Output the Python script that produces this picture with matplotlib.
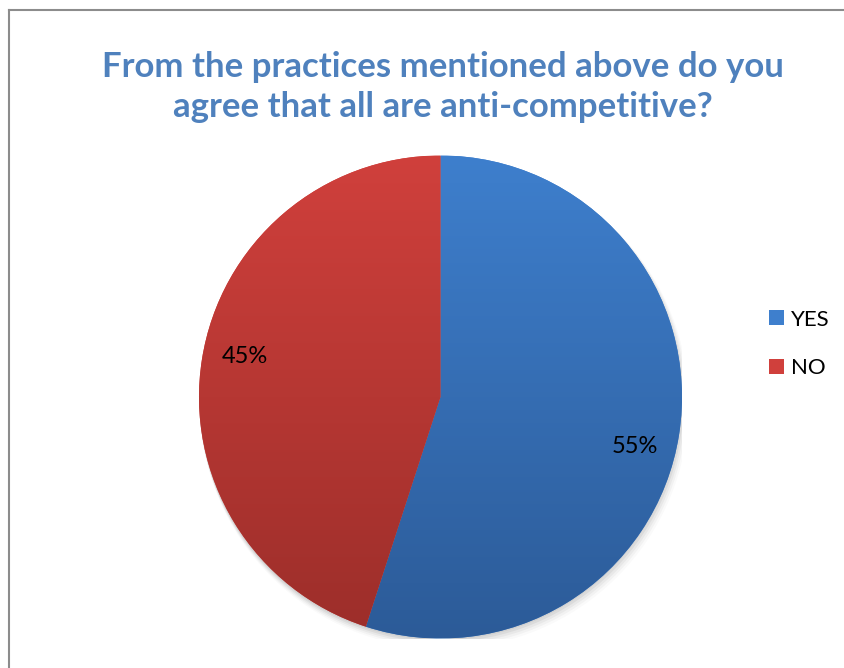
import numpy as np
import matplotlib
matplotlib.use("Agg")
import matplotlib.pyplot as plt
from matplotlib.colors import LinearSegmentedColormap
from matplotlib.lines import Line2D
from matplotlib.patches import Circle

# survey answers
labels = ["YES", "NO"]
shares = [55, 45]
top_colors = ["#3E7FCD", "#D0403C"]
bottom_colors = ["#2C5B98", "#9C2E2A"]
title = "From the practices mentioned above do you\nagree that all are anti-competitive?"

plt.rcParams["font.family"] = ["Lato", "DejaVu Sans"]

fig = plt.figure(figsize=(8.45, 6.68), dpi=100)
ax = fig.add_axes([199 / 845, 29.5 / 668, 483 / 845, 483 / 668])

wedges, texts, autotexts = ax.pie(
    shares, labels=None, startangle=90, counterclock=False,
    colors=top_colors, autopct="%d%%", pctdistance=0.83,
    wedgeprops=dict(linewidth=0), textprops=dict(fontsize=17, color="black"))
ax.set_xlim(-1, 1)
ax.set_ylim(-1, 1)
ax.set_aspect("equal")

# soft drop shadow under the pie
for k, a in enumerate([0.05, 0.05, 0.04, 0.03, 0.02]):
    ax.add_patch(Circle((0.004 * k, -0.006 * (k + 1)), 1.0 + 0.003 * k,
                        color="black", alpha=a, zorder=0.5, lw=0))

# vertical gradient inside each slice
grad = np.linspace(0, 1, 256).reshape(-1, 1)
for w, c0, c1 in zip(wedges, top_colors, bottom_colors):
    cmap = LinearSegmentedColormap.from_list("g", [c1, c0])
    im = ax.imshow(grad, cmap=cmap, extent=(-1, 1, -1, 1), origin="lower",
                   aspect="auto", zorder=1.5)
    im.set_clip_path(w)
    w.set_zorder(1.4)

autotexts[0].set_position((0.805, -0.207))
autotexts[1].set_position((-0.809, 0.166))
for t in autotexts:
    t.set_zorder(3)

fig.legend(wedges, labels, loc="center left", bbox_to_anchor=(749 / 845, 1 - 344 / 668),
           frameon=False, fontsize=16, handlelength=0.68, handleheight=0.68,
           handletextpad=0.32, labelspacing=1.3)

fig.text(443 / 845, 1 - 87 / 668, title, ha="center", va="center",
         fontsize=25, fontweight="bold", color="#4F81BD", linespacing=1.3)

# chart area border (top and left edges)
fig.add_artist(Line2D([9.5 / 845, 9.5 / 845], [0, 1 - 10 / 668], color="#8C8C8C", lw=1.5))
fig.add_artist(Line2D([9.5 / 845, 1], [1 - 10 / 668, 1 - 10 / 668], color="#8C8C8C", lw=1.5))

fig.savefig("out.png", dpi=100)
